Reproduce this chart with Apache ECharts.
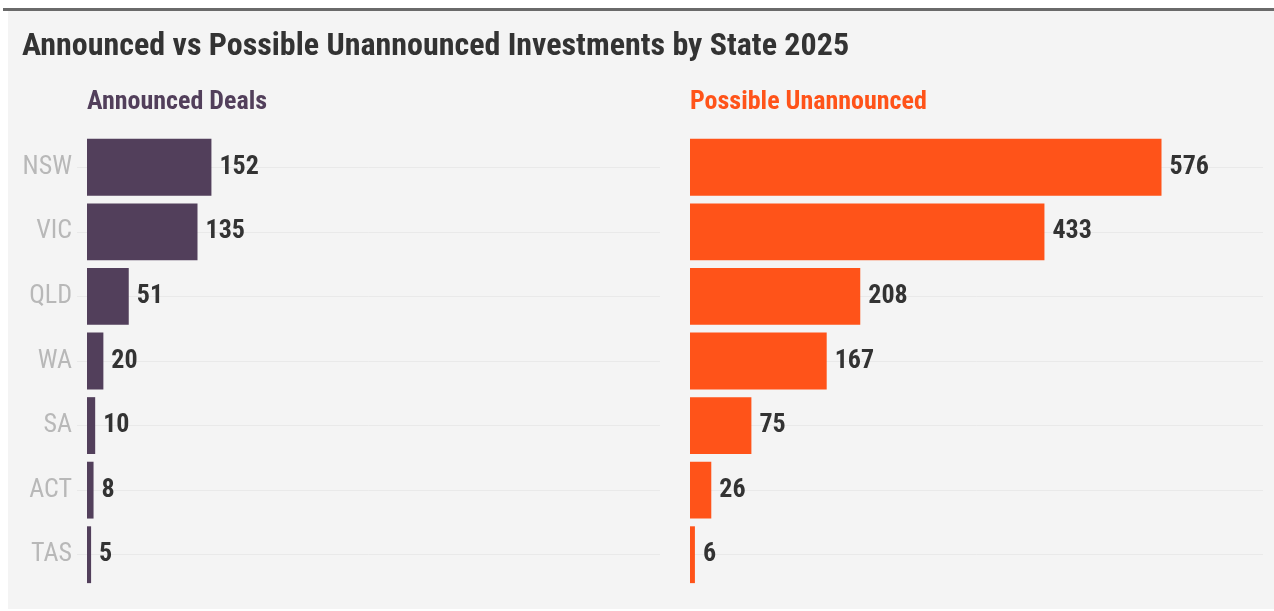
<!DOCTYPE html>
<html>
<head>
<meta charset="utf-8">
<style>
  html, body { margin: 0; padding: 0; background: #ffffff; }
  #chart { width: 1274px; height: 611px; }
</style>
<script src="https://cdn.jsdelivr.net/npm/echarts@6/dist/echarts.min.js"></script>
</head>
<body>
<div id="chart"></div>
<script>
// Investment counts by state, 2025
const states = ['NSW', 'VIC', 'QLD', 'WA', 'SA', 'ACT', 'TAS'];
const announcedDeals = [152, 135, 51, 20, 10, 8, 5];
const possibleUnannounced = [576, 433, 208, 167, 75, 26, 6];

const chartTitle = 'Announced vs Possible Unannounced Investments by State 2025';
const leftHeading = 'Announced Deals';
const rightHeading = 'Possible Unannounced';

const FONT = "'Roboto Condensed', 'Liberation Sans Narrow', 'Arial Narrow', 'DejaVu Sans Condensed', Roboto, sans-serif";
const PURPLE = '#523f5b';
const ORANGE = '#ff5319';
const VALUE_MAX = 700;

const chart = echarts.init(document.getElementById('chart'), null, { renderer: 'canvas' });

const ROW_TOP = 135, ROW_HEIGHT = 452;
const grids = [
  { left: 87, top: ROW_TOP, width: 573, height: ROW_HEIGHT },   // announced bars
  { left: 690, top: ROW_TOP, width: 573, height: ROW_HEIGHT },  // unannounced bars
  { left: 77, top: ROW_TOP, width: 583, height: ROW_HEIGHT }    // rules under the left panel
];

function valueAxis(gridIndex) {
  return {
    type: 'value', gridIndex, min: 0, max: VALUE_MAX,
    axisLine: { show: false }, axisTick: { show: false },
    axisLabel: { show: false }, splitLine: { show: false }
  };
}

function stateAxis(gridIndex, showLabels) {
  return {
    type: 'category', gridIndex, data: states, inverse: true,
    axisLine: { show: false }, axisTick: { show: false },
    axisLabel: {
      show: showLabels, margin: 15, color: '#b8b8b8',
      fontFamily: FONT, fontSize: 26
    },
    splitLine: { show: false }
  };
}

// Faint horizontal rule through the middle of each state's row
function ruleAxis(gridIndex, length) {
  return {
    type: 'category', gridIndex, data: states, inverse: true,
    axisLine: { show: false }, axisLabel: { show: false },
    axisTick: {
      show: true, inside: true, alignWithLabel: true, length,
      lineStyle: { color: '#e9e9e9', width: 1 }
    },
    splitLine: { show: false }
  };
}

function barSeries(name, values, color, axisIdx) {
  return {
    name, type: 'bar', data: values,
    xAxisIndex: axisIdx, yAxisIndex: axisIdx,
    barCategoryGap: '12%',
    itemStyle: { color },
    label: {
      show: true, position: 'right', distance: 8,
      color: '#333333', fontFamily: FONT, fontWeight: 'bold', fontSize: 26
    },
    z: 3
  };
}

chart.setOption({
  backgroundColor: '#ffffff',
  animation: false,
  graphic: [
    { type: 'rect', left: 8, top: 11, shape: { width: 1266, height: 598 },
      style: { fill: '#f4f4f4' }, z: -10 },
    { type: 'rect', left: 3, top: 8, shape: { width: 1271, height: 3 },
      style: { fill: '#6a6a6a' }, z: -9 }
  ],
  title: [
    { text: chartTitle, left: 22, top: 31, padding: 0,
      textStyle: { fontFamily: FONT, fontWeight: 'bold', fontSize: 32, color: '#333333' } },
    { text: leftHeading, left: 87, top: 89, padding: 0,
      textStyle: { fontFamily: FONT, fontWeight: 'bold', fontSize: 26, color: PURPLE } },
    { text: rightHeading, left: 690, top: 89, padding: 0,
      textStyle: { fontFamily: FONT, fontWeight: 'bold', fontSize: 26, color: ORANGE } }
  ],
  grid: grids,
  xAxis: [valueAxis(0), valueAxis(1), valueAxis(2)],
  yAxis: [stateAxis(0, true), stateAxis(1, false), ruleAxis(2, 583), ruleAxis(1, 573)],
  series: [
    barSeries(leftHeading, announcedDeals, PURPLE, 0),
    barSeries(rightHeading, possibleUnannounced, ORANGE, 1)
  ]
});
</script>
</body>
</html>
